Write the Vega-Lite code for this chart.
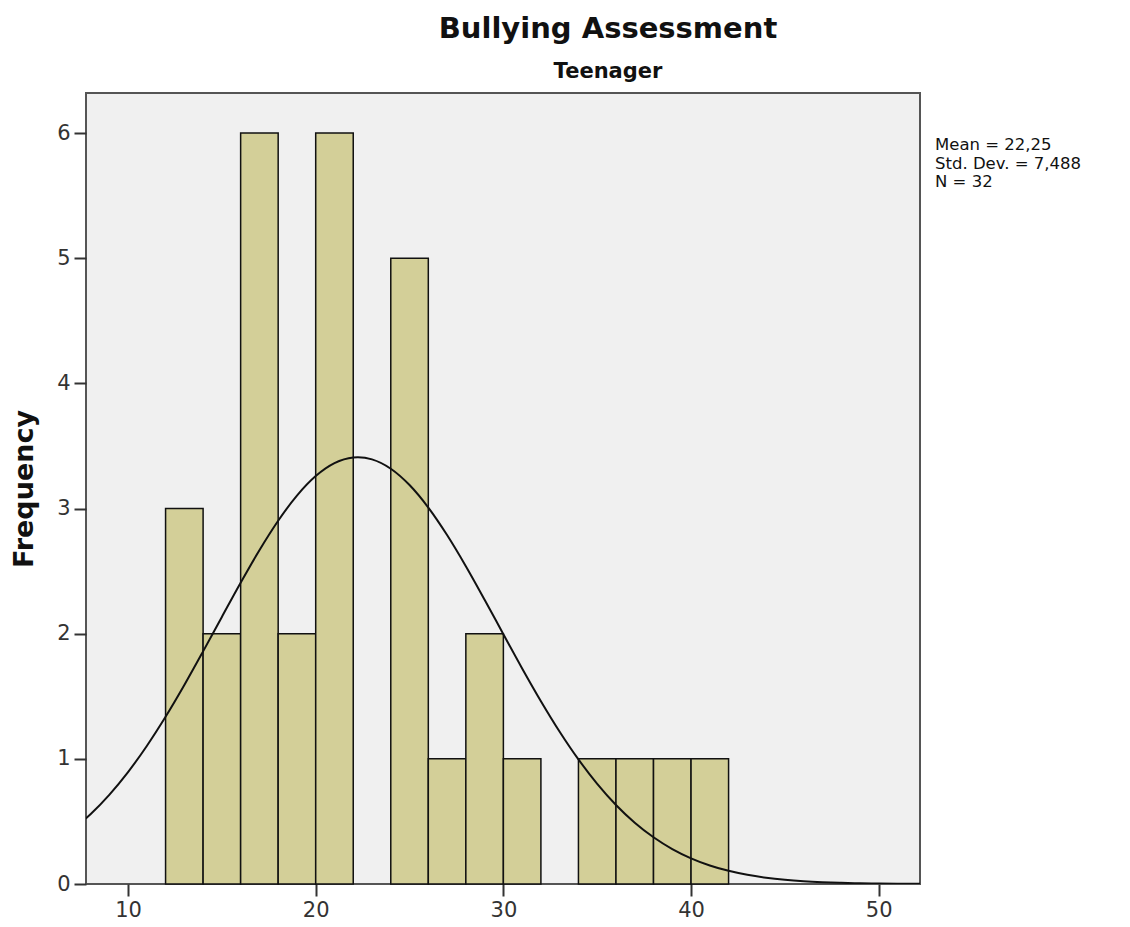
{
  "$schema": "https://vega.github.io/schema/vega-lite/v6.json",
  "autosize": "none",
  "width": 834,
  "height": 791,
  "padding": {"left": 86, "top": 93, "right": 210, "bottom": 43},
  "background": "white",
  "title": {
    "text": "Bullying Assessment",
    "subtitle": "Teenager",
    "anchor": "middle",
    "dx": 105,
    "font": "DejaVu Sans",
    "fontSize": 29,
    "fontWeight": "bold",
    "color": "#111111",
    "subtitleFont": "DejaVu Sans",
    "subtitleFontSize": 21,
    "subtitleFontWeight": "bold",
    "subtitleColor": "#111111",
    "subtitlePadding": 17,
    "offset": 11
  },
  "config": {
    "view": {"fill": "#f0f0f0", "stroke": "#555555", "strokeWidth": 2},
    "axis": {
      "labelFont": "DejaVu Sans",
      "labelFontSize": 21,
      "labelColor": "#333333",
      "tickColor": "#333333",
      "tickSize": 12,
      "tickWidth": 2,
      "domain": false,
      "grid": false,
      "titleFont": "DejaVu Sans"
    }
  },
  "datasets": {
    "bins": [
      {"start": 12, "end": 14, "count": 3},
      {"start": 14, "end": 16, "count": 2},
      {"start": 16, "end": 18, "count": 6},
      {"start": 18, "end": 20, "count": 2},
      {"start": 20, "end": 22, "count": 6},
      {"start": 24, "end": 26, "count": 5},
      {"start": 26, "end": 28, "count": 1},
      {"start": 28, "end": 30, "count": 2},
      {"start": 30, "end": 32, "count": 1},
      {"start": 34, "end": 36, "count": 1},
      {"start": 36, "end": 38, "count": 1},
      {"start": 38, "end": 40, "count": 1},
      {"start": 40, "end": 42, "count": 1}
    ],
    "curve": [
      {"x": 7.75, "y": 0.523},
      {"x": 8, "y": 0.5575},
      {"x": 9, "y": 0.7126},
      {"x": 10, "y": 0.8944},
      {"x": 11, "y": 1.1031},
      {"x": 12, "y": 1.336},
      {"x": 13, "y": 1.59},
      {"x": 14, "y": 1.8587},
      {"x": 15, "y": 2.1339},
      {"x": 16, "y": 2.407},
      {"x": 17, "y": 2.6668},
      {"x": 18, "y": 2.9024},
      {"x": 19, "y": 3.1033},
      {"x": 20, "y": 3.2594},
      {"x": 21, "y": 3.3627},
      {"x": 22, "y": 3.4079},
      {"x": 22.25, "y": 3.4098},
      {"x": 23, "y": 3.3927},
      {"x": 24, "y": 3.318},
      {"x": 25, "y": 3.1875},
      {"x": 26, "y": 3.0078},
      {"x": 27, "y": 2.7882},
      {"x": 28, "y": 2.5393},
      {"x": 29, "y": 2.2713},
      {"x": 30, "y": 1.9957},
      {"x": 31, "y": 1.7226},
      {"x": 32, "y": 1.4607},
      {"x": 33, "y": 1.2166},
      {"x": 34, "y": 0.9953},
      {"x": 35, "y": 0.8003},
      {"x": 36, "y": 0.6315},
      {"x": 37, "y": 0.49},
      {"x": 38, "y": 0.3734},
      {"x": 39, "y": 0.2794},
      {"x": 40, "y": 0.2054},
      {"x": 41, "y": 0.1483},
      {"x": 42, "y": 0.1052},
      {"x": 43, "y": 0.0733},
      {"x": 44, "y": 0.0502},
      {"x": 45, "y": 0.0338},
      {"x": 46, "y": 0.0223},
      {"x": 47, "y": 0.0145},
      {"x": 48, "y": 0.0092},
      {"x": 49, "y": 0.0058},
      {"x": 50, "y": 0.0035},
      {"x": 51, "y": 0.0021},
      {"x": 52, "y": 0.0012},
      {"x": 52.2, "y": 0.0011}
    ],
    "stats": [
      {"label": ["Mean = 22,25", "Std. Dev. = 7,488", "N = 32"]}
    ]
  },
  "layer": [
    {
      "data": {"name": "bins"},
      "mark": {"type": "rect", "fill": "#d3cf98", "stroke": "#111111", "strokeWidth": 1.5},
      "encoding": {
        "x": {
          "field": "start",
          "type": "quantitative",
          "scale": {"domain": [7.76, 52.2], "nice": false, "zero": false},
          "axis": {"values": [10, 20, 30, 40, 50], "format": "d", "title": null, "labelPadding": 3}
        },
        "x2": {"field": "end"},
        "y": {
          "field": "count",
          "type": "quantitative",
          "scale": {"domain": [0, 6.32], "nice": false},
          "axis": {
            "values": [0, 1, 2, 3, 4, 5, 6],
            "format": "d",
            "title": "Frequency",
            "titleFontSize": 27,
            "titleFontWeight": "bold",
            "titleColor": "#111111",
            "titlePadding": 18,
            "labelPadding": 4
          }
        },
        "y2": {"datum": 0}
      }
    },
    {
      "data": {"name": "curve"},
      "mark": {"type": "line", "color": "#111111", "strokeWidth": 2, "interpolate": "monotone", "clip": true},
      "encoding": {
        "x": {"field": "x", "type": "quantitative"},
        "y": {"field": "y", "type": "quantitative"}
      }
    },
    {
      "data": {"name": "stats"},
      "mark": {
        "type": "text",
        "align": "left",
        "baseline": "top",
        "font": "DejaVu Sans",
        "fontSize": 16.5,
        "lineHeight": 18.5,
        "color": "#111111",
        "dx": 15,
        "dy": 44
      },
      "encoding": {
        "x": {"datum": 52.2, "type": "quantitative"},
        "y": {"datum": 6.32, "type": "quantitative"},
        "text": {"field": "label"}
      }
    }
  ]
}
